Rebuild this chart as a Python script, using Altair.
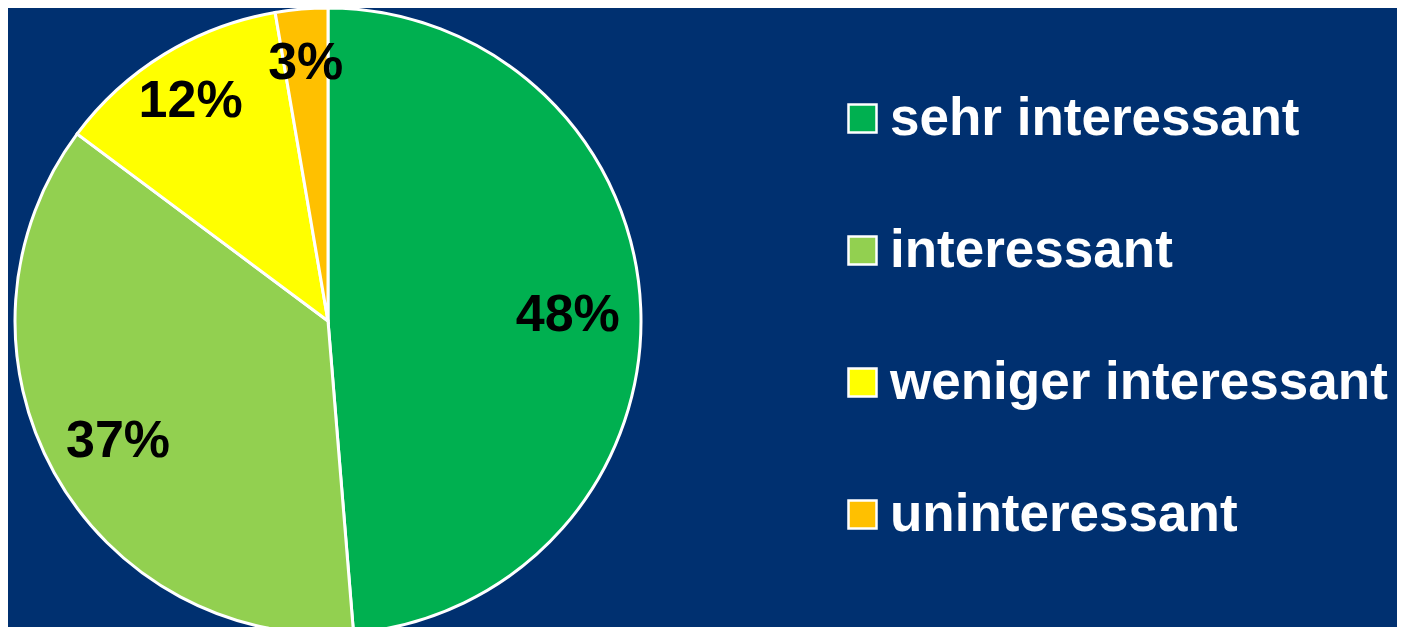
import altair as alt
import pandas as pd

categories = ["sehr interessant", "interessant", "weniger interessant", "uninteressant"]
values = [48.7, 36.5, 12.1, 2.7]
labels = ["48%", "37%", "12%", "3%"]
colors = ["#00B050", "#92D050", "#FFFF00", "#FFC000"]

df = pd.DataFrame({
    "category": categories,
    "value": values,
    "label": labels,
    "order": list(range(len(categories))),
})

FONT = "Liberation Sans"
CX, CY, R = 320, 313, 313
theta_scale = alt.Scale(domain=[0, 100])

pie = alt.Chart(df).mark_arc(outerRadius=R, stroke="white", strokeWidth=3).encode(
    theta=alt.Theta("value:Q", stack=True, scale=theta_scale),
    order=alt.Order("order:Q", sort="ascending"),
    x=alt.value(CX),
    y=alt.value(CY),
    color=alt.Color(
        "category:N",
        scale=alt.Scale(domain=categories, range=colors),
        legend=alt.Legend(
            title=None,
            orient="none",
            legendX=828,
            legendY=84,
            symbolType="square",
            symbolSize=784,
            symbolStrokeColor="white",
            symbolStrokeWidth=2.5,
            symbolOpacity=1,
            labelFont=FONT,
            labelFontSize=53,
            labelFontWeight="bold",
            labelColor="white",
            labelOffset=1,
            labelLimit=0,
            rowPadding=78,
        ),
    ),
)

text_base = alt.Chart(df).transform_window(
    cum="sum(value)", sort=[alt.SortField("order", order="ascending")]
).transform_calculate(
    mid="datum.cum - datum.value / 2"
).encode(
    theta=alt.Theta("mid:Q", stack=None, scale=theta_scale),
    x=alt.value(CX),
    y=alt.value(CY),
    text="label:N",
)

text_style = dict(font=FONT, fontSize=52, fontWeight="bold", color="black",
                  align="center", baseline="middle", dy=4)

text_big = text_base.transform_filter("datum.value > 20").mark_text(radius=240, **text_style)
text_small = text_base.transform_filter("datum.value <= 20").mark_text(radius=263, **text_style)

chart = alt.layer(pie, text_big, text_small).properties(
    width=1389, height=619, autosize="none", padding=0,
    background="#003070",
).configure_view(stroke=None)

chart.save("out.html", embed_options={"renderer": "svg", "actions": False})
